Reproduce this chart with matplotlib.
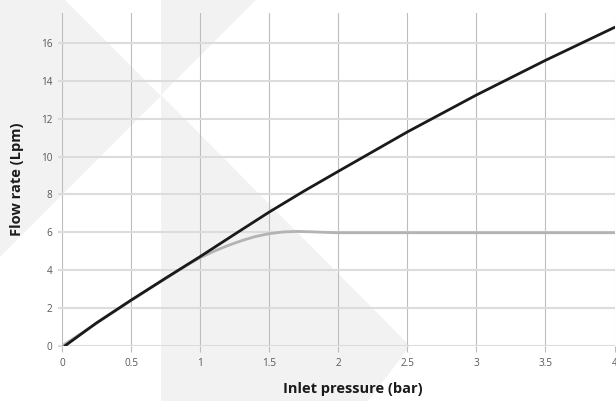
import matplotlib
matplotlib.use("Agg")
import matplotlib.pyplot as plt
from matplotlib.patches import Polygon

plt.rcParams['font.family'] = ['Open Sans', 'DejaVu Sans']

# Data
black_x = [0.02, 0.25, 0.5, 0.75, 1.0, 1.25, 1.5, 1.75, 2.0, 2.5, 3.0, 3.5, 4.0]
black_y = [0.0, 1.22, 2.42, 3.58, 4.72, 5.9, 7.07, 8.17, 9.22, 11.3, 13.25, 15.08, 16.82]
gray_x = [0.0, 0.25, 0.5, 0.75, 0.9, 1.0, 1.1, 1.2, 1.3, 1.4, 1.5, 1.6, 1.7, 1.8, 1.9, 2.0, 2.5, 3.0, 3.5, 4.0]
gray_y = [0.0, 1.2, 2.4, 3.56, 4.25, 4.66, 5.0, 5.3, 5.56, 5.78, 5.93, 6.02, 6.05, 6.03, 6.0, 5.98, 5.98, 5.98, 5.98, 5.98]
x_ticks = [0, 0.5, 1, 1.5, 2, 2.5, 3, 3.5, 4]
x_tick_labels = ['0', '0.5', '1', '1.5', '2', '2.5', '3', '3.5', '4']
y_ticks = [0, 2, 4, 6, 8, 10, 12, 14, 16]

W, H = 616, 401
fig = plt.figure(figsize=(W / 100, H / 100), dpi=100)
fig.patch.set_facecolor('white')

def px(pts):
    return [(x / W, 1 - y / H) for x, y in pts]

ax = fig.add_axes([62 / W, 55 / H, (614.5 - 62) / W, (346 - 13) / H])
ax.set_facecolor('none')
ax.set_xlim(0, 4)
ax.set_ylim(0, 17.58)
for s in ax.spines.values():
    s.set_visible(False)

wm = '#f2f2f2'
for poly in [
    [(0, 0), (65, 0), (161, 96), (0, 257)],
    [(161, 0), (256, 0), (161, 95), (410, 346), (368, 401), (161, 401)],
]:
    ax.add_patch(Polygon(px(poly), closed=True, facecolor=wm, edgecolor='none',
                         transform=fig.transFigure, zorder=0, clip_on=False))

ax.set_xticks(x_ticks)
ax.set_xticklabels(x_tick_labels)
ax.set_yticks(y_ticks)
ax.tick_params(axis='x', length=4, width=0.8, color='#bdbdbd', labelsize=7.2, labelcolor='#595959', pad=5)
ax.tick_params(axis='y', length=3, width=1.5, color='#dcdcdc', labelsize=7.2, labelcolor='#595959', pad=4)

ax.set_axisbelow(True)
ax.grid(axis='y', color='#dcdcdc', linewidth=1.5)
ax.grid(axis='x', color='#bdbdbd', linewidth=0.8)
for gl in ax.get_xgridlines() + ax.get_ygridlines():
    gl.set_zorder(1)

ax.plot(gray_x, gray_y, color='#b3b3b3', linewidth=2.0, zorder=3, solid_capstyle='round')
ax.plot(black_x, black_y, color='#1a1a1a', linewidth=2.0, zorder=4, solid_capstyle='round')

ax.set_xlabel('Inlet pressure (bar)', fontsize=10.5, fontweight='bold', color='#1a1a1a', labelpad=9)
ax.xaxis.label.set_x(0.527)
ax.set_ylabel('Flow rate (Lpm)', fontsize=10.5, fontweight='bold', color='#1a1a1a', labelpad=12)

fig.savefig('out.png', dpi=100, facecolor='white')
